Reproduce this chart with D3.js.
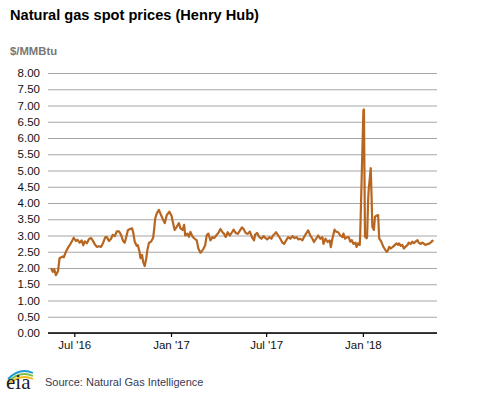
<!DOCTYPE html>
<html><head><meta charset="utf-8">
<script src="https://cdn.jsdelivr.net/npm/d3@7/dist/d3.min.js"></script>
<style>
body{margin:0;background:#fff;}
svg{display:block;font-family:"Liberation Sans",Arial,sans-serif;}
</style></head><body>
<svg id="chart" width="477" height="393"></svg>
<script>
const title = "Natural gas spot prices (Henry Hub)";
const unitLabel = "$/MMBtu";
const sourceText = "Source: Natural Gas Intelligence";
const yTicks = [0,0.5,1,1.5,2,2.5,3,3.5,4,4.5,5,5.5,6,6.5,7,7.5,8];
const xTickDates = ["2016-07-01","2017-01-01","2017-07-01","2018-01-01"];
const xTickLabels = ["Jul '16","Jan '17","Jul '17","Jan '18"];
const xDomain = ["2016-05-12","2018-05-22"];
const dates = [
"2016-05-18","2016-05-21","2016-05-24","2016-05-27","2016-05-31","2016-06-03","2016-06-08","2016-06-11","2016-06-15","2016-06-20",
"2016-06-23","2016-06-26","2016-06-30","2016-07-04","2016-07-07","2016-07-11","2016-07-15","2016-07-18","2016-07-21","2016-07-25",
"2016-07-29","2016-08-02","2016-08-05","2016-08-09","2016-08-13","2016-08-17","2016-08-21","2016-08-25","2016-08-29","2016-09-01",
"2016-09-05","2016-09-09","2016-09-12","2016-09-16","2016-09-20","2016-09-24","2016-09-28","2016-10-02","2016-10-05","2016-10-07",
"2016-10-11","2016-10-15","2016-10-19","2016-10-21","2016-10-24","2016-10-28","2016-10-30","2016-11-02","2016-11-04","2016-11-07",
"2016-11-09","2016-11-12","2016-11-15","2016-11-17","2016-11-20","2016-11-24","2016-11-28","2016-11-30","2016-12-02","2016-12-05",
"2016-12-09","2016-12-13","2016-12-16","2016-12-20","2016-12-24","2016-12-29","2017-01-02","2017-01-05","2017-01-08","2017-01-12",
"2017-01-16","2017-01-19","2017-01-23","2017-01-26","2017-01-28","2017-02-01","2017-02-04","2017-02-07","2017-02-11","2017-02-15",
"2017-02-19","2017-02-22","2017-02-26","2017-02-28","2017-03-04","2017-03-07","2017-03-10","2017-03-13","2017-03-17","2017-03-21",
"2017-03-24","2017-03-28","2017-04-01","2017-04-05","2017-04-09","2017-04-12","2017-04-15","2017-04-19","2017-04-23","2017-04-27",
"2017-04-30","2017-05-04","2017-05-08","2017-05-12","2017-05-16","2017-05-19","2017-05-23","2017-05-27","2017-05-31","2017-06-04",
"2017-06-08","2017-06-10","2017-06-14","2017-06-18","2017-06-22","2017-06-26","2017-06-30","2017-07-03","2017-07-07","2017-07-11",
"2017-07-14","2017-07-18","2017-07-20","2017-07-24","2017-07-28","2017-08-01","2017-08-04","2017-08-08","2017-08-12","2017-08-16",
"2017-08-20","2017-08-24","2017-08-28","2017-08-31","2017-09-04","2017-09-08","2017-09-11","2017-09-15","2017-09-19","2017-09-23",
"2017-09-27","2017-09-30","2017-10-04","2017-10-08","2017-10-12","2017-10-16","2017-10-18","2017-10-22","2017-10-26","2017-10-30",
"2017-11-01","2017-11-04","2017-11-08","2017-11-11","2017-11-15","2017-11-19","2017-11-23","2017-11-25","2017-11-28","2017-12-02",
"2017-12-05","2017-12-08","2017-12-11","2017-12-14","2017-12-18","2017-12-20","2017-12-23","2017-12-26","2017-12-27","2018-01-02",
"2018-01-03","2018-01-05","2018-01-08","2018-01-09","2018-01-11","2018-01-12","2018-01-16","2018-01-17","2018-01-19","2018-01-22",
"2018-01-24","2018-01-26","2018-01-30","2018-01-31","2018-02-01","2018-02-05","2018-02-09","2018-02-11","2018-02-15","2018-02-18",
"2018-02-20","2018-02-23","2018-02-27","2018-03-03","2018-03-06","2018-03-09","2018-03-11","2018-03-14","2018-03-17","2018-03-20",
"2018-03-23","2018-03-27","2018-03-29","2018-04-02","2018-04-05","2018-04-08","2018-04-11","2018-04-15","2018-04-17","2018-04-21",
"2018-04-24","2018-04-28","2018-04-30","2018-05-04","2018-05-06","2018-05-10","2018-05-13","2018-05-15"
];
const prices = [
2.00,1.88,1.96,1.78,1.90,2.30,2.35,2.33,2.50,2.65,
2.72,2.81,2.93,2.83,2.87,2.78,2.85,2.70,2.82,2.76,
2.89,2.92,2.85,2.73,2.65,2.67,2.65,2.78,2.95,2.95,
2.83,2.90,3.02,2.98,3.13,3.13,3.02,2.83,2.78,2.90,
3.16,3.20,3.22,3.10,2.81,2.68,2.70,2.50,2.30,2.40,
2.19,2.06,2.30,2.55,2.77,2.81,2.93,3.20,3.53,3.68,
3.79,3.63,3.52,3.38,3.63,3.73,3.61,3.38,3.17,3.27,
3.38,3.22,3.17,3.33,3.00,3.06,2.96,3.11,2.96,2.90,
2.85,2.60,2.47,2.50,2.60,2.70,3.01,3.06,2.85,2.95,
2.92,3.00,3.08,3.20,3.10,3.05,2.95,3.10,3.00,3.10,
3.18,3.08,3.05,3.15,3.25,3.20,3.08,3.05,3.12,2.95,
2.85,3.03,3.08,2.95,2.90,2.98,2.92,2.88,2.95,2.90,
3.00,3.06,3.10,3.00,2.90,2.78,2.74,2.85,2.95,2.90,
2.98,2.92,2.95,2.88,2.90,2.85,2.95,3.06,3.16,3.00,
2.90,2.80,2.90,3.00,2.90,2.95,2.74,2.90,2.80,2.85,
2.64,2.90,3.18,3.12,3.10,3.00,2.95,3.06,2.90,2.95,
2.95,2.81,2.86,2.74,2.78,2.65,2.76,2.71,3.07,6.85,
6.88,2.97,2.91,2.95,4.10,4.40,5.07,4.50,3.27,3.17,
3.58,3.60,3.63,3.27,2.91,2.81,2.65,2.60,2.50,2.55,
2.65,2.60,2.65,2.71,2.76,2.71,2.76,2.68,2.71,2.60,
2.65,2.71,2.78,2.74,2.81,2.76,2.81,2.86,2.78,2.74,
2.78,2.74,2.71,2.74,2.74,2.78,2.84,2.81
];

const parse = d3.utcParse("%Y-%m-%d");
const data = dates.map((d,i)=>({date:parse(d), value:prices[i]}));

const svg = d3.select("#chart");
const margin = {left:48, right:40, top:73, bottom:60};
const W = 477, H = 393;
const x = d3.scaleUtc().domain(xDomain.map(parse)).range([margin.left, W-margin.right]);
const y = d3.scaleLinear().domain([0,8]).range([H-margin.bottom, margin.top]);

// title & unit
svg.append("text").attr("x",10).attr("y",20).attr("font-size",14.6).attr("font-weight","bold").attr("fill","#000").text(title);
svg.append("text").attr("x",10).attr("y",55).attr("font-size",11.3).attr("font-weight","bold").attr("fill","#777").text(unitLabel);

// grid + y labels
const yAxis = d3.axisLeft(y).tickValues(yTicks).tickSize(-(W-margin.left-margin.right)).tickPadding(8).tickFormat(d3.format(".2f"));
const gy = svg.append("g").attr("transform",`translate(${margin.left},0)`).call(yAxis);
gy.select(".domain").remove();
gy.selectAll(".tick line").attr("stroke","#a6a6a6").attr("stroke-width",1.2);
gy.selectAll(".tick text").attr("font-size",11.5).attr("fill","#111").attr("font-family","Liberation Sans, Arial, sans-serif");

// line
const line = d3.line().x(d=>x(d.date)).y(d=>y(d.value));
svg.append("path").datum(data).attr("d",line).attr("fill","none").attr("stroke","#b8651f").attr("stroke-width",2.2).attr("stroke-linejoin","round");

// x axis
const xAxis = d3.axisBottom(x).tickValues(xTickDates.map(parse)).tickSize(4).tickPadding(4).tickFormat((d,i)=>xTickLabels[i]);
const gx = svg.append("g").attr("transform",`translate(0,${H-margin.bottom})`).call(xAxis);
gx.select(".domain").attr("stroke","#000").attr("stroke-width",1.5).attr("d",`M${margin.left},0H${W-margin.right}`);
gx.selectAll(".tick line").attr("stroke","#000").attr("stroke-width",1.2);
gx.selectAll(".tick text").attr("font-size",11.5).attr("fill","#111").attr("font-family","Liberation Sans, Arial, sans-serif");

// eia logo
const logo = svg.append("g");
const arcs = [["#f2b818",376],["#7cbf42",373],["#1c9ad6",370]];
arcs.forEach(([c,top])=>{
  logo.append("path").attr("d",`M8,${top+9} Q20,${top-3} 33,${top+3}`).attr("fill","none").attr("stroke",c).attr("stroke-width",1.8);
});
logo.append("text").attr("x",6).attr("y",389).attr("font-family","Liberation Serif, DejaVu Serif, serif").attr("font-size",21).attr("fill","#1b1b33").text("eia");

svg.append("text").attr("x",45).attr("y",386).attr("font-size",11).attr("fill","#3a3a55").text(sourceText);
</script>
</body></html>
